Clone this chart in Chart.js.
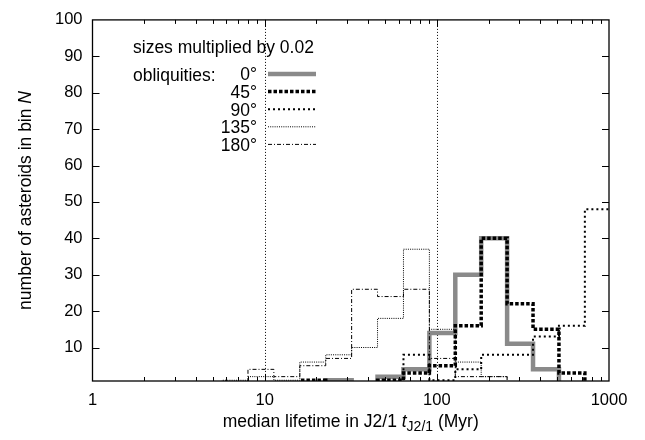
<!DOCTYPE html>
<html><head><meta charset="utf-8">
<script src="https://cdn.jsdelivr.net/npm/chart.js@4.4.0/dist/chart.umd.min.js"></script>
<style>html,body{margin:0;padding:0;background:#fff;}#wrap{position:relative;width:645px;height:440px;}</style>
</head><body><div id="wrap"><canvas id="c" width="645" height="440"></canvas></div>
<script>
// bin edges of the median-lifetime histogram (Myr)
const binEdges = [5.657, 8, 11.31, 16, 22.63, 32, 45.25, 64, 90.51, 128, 181.0, 256, 362.0, 512, 724.1, 1024];
const obliquities = ['0°', '45°', '90°', '135°', '180°'];
const counts0   = [0, 0, 0, 0, 1, 0, 2, 4, 14, 30, 40, 11, 4, 0, 0];
const counts45  = [0, 0, 0, 1, 0, 0, 1, 3, 5, 16, 40, 22, 15, 3, 0];
const counts90  = [0, 0, 0, 0, 0, 0, 0, 8, 1, 4, 8, 8, 13, 16, 48];
const counts135 = [1, 2, 1, 6, 8, 10, 18, 37, 15, 6, 2, 0, 0, 0, 0];
const counts180 = [0, 4, 2, 5, 7, 26, 24, 26, 7, 2, 2, 0, 0, 0, 0];
const xTicks = [1, 10, 100, 1000];
const yTicks = [10, 20, 30, 40, 50, 60, 70, 80, 90, 100];
const refLines = [10, 100];
const legendTitle = 'sizes multiplied by 0.02';
const legendHead = 'obliquities:';

const FONT = '"Liberation Sans", Arial, Helvetica, sans-serif';
const TXT = 17.5;

function steps(counts) {
  const pts = [{x: binEdges[0], y: 0}];
  counts.forEach((c, i) => pts.push({x: binEdges[i], y: c}));
  pts.push({x: binEdges[binEdges.length - 1], y: 0});
  return pts;
}

const styles = [
  {borderColor: '#8a8a8a', borderWidth: 4.5, borderDash: []},
  {borderColor: '#000', borderWidth: 3.5, borderDash: [3.5, 2]},
  {borderColor: '#000', borderWidth: 2, borderDash: [2, 3]},
  {borderColor: '#000', borderWidth: 1, borderDash: [1, 1.2]},
  {borderColor: '#000', borderWidth: 1, borderDash: [4, 2, 1, 2]}
];
const allCounts = [counts0, counts45, counts90, counts135, counts180];

const datasets = allCounts.map((c, i) => Object.assign({
  label: obliquities[i],
  data: steps(c),
  stepped: true,
  pointRadius: 0,
  fill: false,
  clip: 0,
  order: 5 - i,
  borderCapStyle: 'butt',
  borderJoinStyle: 'miter'
}, styles[i]));

const framePlugin = {
  id: 'frame',
  beforeDatasetsDraw(chart) {
    const {ctx, chartArea: a, scales: {x}} = chart;
    ctx.save();
    ctx.strokeStyle = '#000';
    ctx.lineWidth = 1;
    ctx.setLineDash([1, 2]);
    refLines.forEach(v => {
      const px = Math.round(x.getPixelForValue(v)) + 0.5;
      ctx.beginPath(); ctx.moveTo(px, a.top); ctx.lineTo(px, a.bottom); ctx.stroke();
    });
    ctx.restore();
  },
  afterDatasetsDraw(chart) {
    const {ctx, chartArea: a, scales: {x, y}} = chart;
    ctx.save();
    ctx.strokeStyle = '#000';
    ctx.lineWidth = 1;
    ctx.setLineDash([]);
    ctx.beginPath();
    for (let d = 1; d < 1000; d *= 10) {
      for (let m = 1; m <= 9; m++) {
        const v = d * m;
        if (v <= 1 || v >= 1000) continue;
        const len = (m === 1) ? 7 : 4;
        const px = Math.round(x.getPixelForValue(v)) + 0.5;
        ctx.moveTo(px, a.bottom); ctx.lineTo(px, a.bottom - len);
        ctx.moveTo(px, a.top); ctx.lineTo(px, a.top + len);
      }
    }
    yTicks.forEach(v => {
      if (v >= 100) return;
      const py = Math.round(y.getPixelForValue(v)) + 0.5;
      ctx.moveTo(a.left, py); ctx.lineTo(a.left + 7, py);
      ctx.moveTo(a.right, py); ctx.lineTo(a.right - 7, py);
    });
    ctx.stroke();
    ctx.lineWidth = 1.3;
    ctx.strokeRect(a.left, a.top, a.right - a.left, a.bottom - a.top);
    ctx.restore();
  },
  afterDraw(chart) {
    const {ctx, chartArea: a, data} = chart;
    ctx.save();
    ctx.fillStyle = '#000';
    ctx.textBaseline = 'alphabetic';
    // legend
    ctx.font = TXT + 'px ' + FONT;
    ctx.textAlign = 'left';
    ctx.fillText(legendTitle, 133, 53);
    ctx.fillText(legendHead, 133, 80.5);
    data.datasets.forEach((ds, i) => {
      const ly = 74 + i * 17.6;
      ctx.textAlign = 'right';
      ctx.fillText(ds.label, 257, ly + 6.3);
      ctx.save();
      ctx.strokeStyle = ds.borderColor;
      ctx.lineWidth = ds.borderWidth;
      ctx.setLineDash(ds.borderDash);
      ctx.lineCap = 'butt';
      ctx.beginPath(); ctx.moveTo(268, ly); ctx.lineTo(316, ly); ctx.stroke();
      ctx.restore();
    });
    // y axis title
    ctx.save();
    ctx.translate(30.5, (a.top + a.bottom) / 2);
    ctx.rotate(-Math.PI / 2);
    const p1 = 'number of asteroids in bin ', p2 = 'N';
    ctx.font = TXT + 'px ' + FONT;
    const w1 = ctx.measureText(p1).width;
    ctx.font = 'italic ' + TXT + 'px ' + FONT;
    const w2 = ctx.measureText(p2).width;
    let sx = -(w1 + w2) / 2;
    ctx.textAlign = 'left';
    ctx.font = TXT + 'px ' + FONT;
    ctx.fillText(p1, sx, 0);
    ctx.font = 'italic ' + TXT + 'px ' + FONT;
    ctx.fillText(p2, sx + w1, 0);
    ctx.restore();
    // x axis title
    const parts = [
      {t: 'median lifetime in J2/1 ', f: TXT + 'px ' + FONT, dy: 0},
      {t: 't', f: 'italic ' + TXT + 'px ' + FONT, dy: 0},
      {t: 'J2/1', f: '14px ' + FONT, dy: 4},
      {t: ' (Myr)', f: TXT + 'px ' + FONT, dy: 0}
    ];
    let tw = 0;
    parts.forEach(p => { ctx.font = p.f; p.w = ctx.measureText(p.t).width; tw += p.w; });
    let cx = (a.left + a.right) / 2 - tw / 2;
    ctx.textAlign = 'left';
    parts.forEach(p => { ctx.font = p.f; ctx.fillText(p.t, cx, 427 + p.dy); cx += p.w; });
    ctx.restore();
  }
};

new Chart(document.getElementById('c'), {
  type: 'line',
  data: {datasets},
  options: {
    responsive: false,
    animation: false,
    devicePixelRatio: 1,
    layout: {padding: {left: 0, right: 36, top: 10, bottom: 0}},
    plugins: {legend: {display: false}, tooltip: {enabled: false}},
    scales: {
      x: {
        type: 'logarithmic', min: 1, max: 1000,
        grid: {display: false, drawTicks: false},
        border: {display: false},
        afterBuildTicks: s => { s.ticks = xTicks.map(v => ({value: v})); },
        afterFit: s => { s.height = 59; },
        ticks: {callback: v => String(v), color: '#000', font: {family: FONT, size: 16.5}, padding: 10, maxRotation: 0, autoSkip: false}
      },
      y: {
        type: 'linear', min: 0.8, max: 100,
        grid: {display: false, drawTicks: false},
        border: {display: false},
        afterBuildTicks: s => { s.ticks = yTicks.map(v => ({value: v})); },
        afterFit: s => { s.width = 92.5; },
        ticks: {callback: v => String(v), color: '#000', font: {family: FONT, size: 16.5}, padding: 10, autoSkip: false}
      }
    }
  },
  plugins: [framePlugin]
});
</script>
</body></html>
